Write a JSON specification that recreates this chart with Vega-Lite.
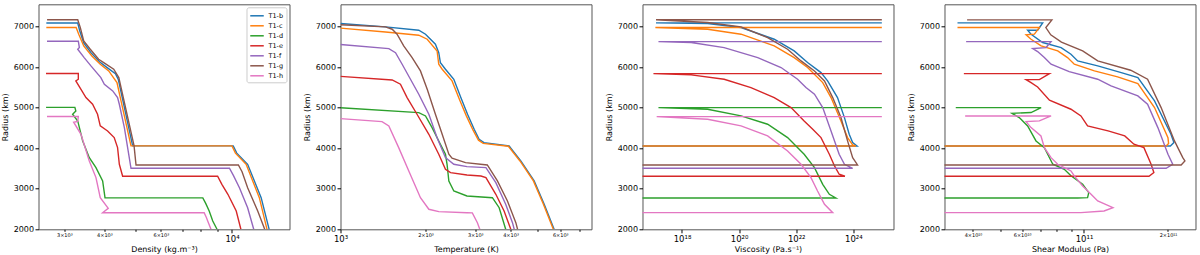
{
"$schema":"https://vega.github.io/schema/vega-lite/v6.json",
"padding":{"left":0.5,"top":3.3,"right":0,"bottom":0},
"background":"white",
"spacing":51,
"bounds":"flush",
"config":{
 "view":{"stroke":"#555","strokeWidth":1},
 "axis":{"domain":false,"grid":false,"tickColor":"#000","tickSize":3.5,"labelColor":"#000","titleColor":"#000","labelFont":"DejaVu Sans","titleFont":"DejaVu Sans","labelFontSize":8,"titleFontSize":8,"titleFontWeight":"normal","labelPadding":1.5,"labelOverlap":false,"labelFlush":false},
 "axisY":{"titlePadding":4},
 "axisX":{"titlePadding":3}
},
"datasets":{
"dens":[
{"s":"T1-b","i":0,"x":2636,"r":7090},{"s":"T1-b","i":1,"x":3303,"r":7090},{"s":"T1-b","i":2,"x":3350,"r":6900},{"s":"T1-b","i":3,"x":3448,"r":6600},{"s":"T1-b","i":4,"x":3630,"r":6360},{"s":"T1-b","i":5,"x":3860,"r":6135},{"s":"T1-b","i":6,"x":4050,"r":6010},{"s":"T1-b","i":7,"x":4330,"r":5840},{"s":"T1-b","i":8,"x":4420,"r":5700},{"s":"T1-b","i":9,"x":4900,"r":4060},{"s":"T1-b","i":10,"x":10090,"r":4060},{"s":"T1-b","i":11,"x":10350,"r":3880},{"s":"T1-b","i":12,"x":11190,"r":3605},{"s":"T1-b","i":13,"x":12330,"r":2780},{"s":"T1-b","i":14,"x":13060,"r":2000},
{"s":"T1-c","i":0,"x":2636,"r":6980},{"s":"T1-c","i":1,"x":3265,"r":6980},{"s":"T1-c","i":2,"x":3327,"r":6815},{"s":"T1-c","i":3,"x":3448,"r":6526},{"s":"T1-c","i":4,"x":3656,"r":6279},{"s":"T1-c","i":5,"x":3883,"r":6074},{"s":"T1-c","i":6,"x":4126,"r":5909},{"s":"T1-c","i":7,"x":4378,"r":5620},{"s":"T1-c","i":8,"x":4842,"r":4060},{"s":"T1-c","i":9,"x":10000,"r":4060},{"s":"T1-c","i":10,"x":10250,"r":3880},{"s":"T1-c","i":11,"x":11070,"r":3605},{"s":"T1-c","i":12,"x":12170,"r":2780},{"s":"T1-c","i":13,"x":12860,"r":2000},
{"s":"T1-d","i":0,"x":2631,"r":5010},{"s":"T1-d","i":1,"x":3236,"r":5010},{"s":"T1-d","i":2,"x":3258,"r":4919},{"s":"T1-d","i":3,"x":3184,"r":4839},{"s":"T1-d","i":4,"x":3303,"r":4674},{"s":"T1-d","i":5,"x":3423,"r":4180},{"s":"T1-d","i":6,"x":3589,"r":3768},{"s":"T1-d","i":7,"x":3765,"r":3521},{"s":"T1-d","i":8,"x":3950,"r":3193},{"s":"T1-d","i":9,"x":4018,"r":2775},{"s":"T1-d","i":10,"x":8110,"r":2775},{"s":"T1-d","i":11,"x":8280,"r":2640},{"s":"T1-d","i":12,"x":8490,"r":2452},{"s":"T1-d","i":13,"x":8710,"r":2205},{"s":"T1-d","i":14,"x":8980,"r":2000},
{"s":"T1-e","i":0,"x":2630,"r":5845},{"s":"T1-e","i":1,"x":3317,"r":5845},{"s":"T1-e","i":2,"x":3317,"r":5704},{"s":"T1-e","i":3,"x":3258,"r":5662},{"s":"T1-e","i":4,"x":3381,"r":5456},{"s":"T1-e","i":5,"x":3504,"r":5251},{"s":"T1-e","i":6,"x":3675,"r":5086},{"s":"T1-e","i":7,"x":3808,"r":4839},{"s":"T1-e","i":8,"x":3883,"r":4551},{"s":"T1-e","i":9,"x":4093,"r":4428},{"s":"T1-e","i":10,"x":4292,"r":4263},{"s":"T1-e","i":11,"x":4397,"r":4016},{"s":"T1-e","i":12,"x":4453,"r":3605},{"s":"T1-e","i":13,"x":4560,"r":3310},{"s":"T1-e","i":14,"x":9020,"r":3310},{"s":"T1-e","i":15,"x":9300,"r":3110},{"s":"T1-e","i":16,"x":9710,"r":2864},{"s":"T1-e","i":17,"x":10310,"r":2452},{"s":"T1-e","i":18,"x":10660,"r":2000},
{"s":"T1-f","i":0,"x":2649,"r":6640},{"s":"T1-f","i":1,"x":3317,"r":6640},{"s":"T1-f","i":2,"x":3342,"r":6485},{"s":"T1-f","i":3,"x":3303,"r":6444},{"s":"T1-f","i":4,"x":3459,"r":6238},{"s":"T1-f","i":5,"x":3631,"r":6033},{"s":"T1-f","i":6,"x":3900,"r":5745},{"s":"T1-f","i":7,"x":3999,"r":5580},{"s":"T1-f","i":8,"x":4246,"r":5415},{"s":"T1-f","i":9,"x":4397,"r":5251},{"s":"T1-f","i":10,"x":4453,"r":5086},{"s":"T1-f","i":11,"x":4617,"r":4510},{"s":"T1-f","i":12,"x":4842,"r":3506},{"s":"T1-f","i":13,"x":9820,"r":3506},{"s":"T1-f","i":14,"x":10100,"r":3330},{"s":"T1-f","i":15,"x":10550,"r":3027},{"s":"T1-f","i":16,"x":11190,"r":2533},{"s":"T1-f","i":17,"x":11690,"r":2000},
{"s":"T1-g","i":0,"x":2650,"r":7170},{"s":"T1-g","i":1,"x":3303,"r":7170},{"s":"T1-g","i":2,"x":3365,"r":6978},{"s":"T1-g","i":3,"x":3448,"r":6649},{"s":"T1-g","i":4,"x":3614,"r":6444},{"s":"T1-g","i":5,"x":3838,"r":6197},{"s":"T1-g","i":6,"x":3980,"r":6114},{"s":"T1-g","i":7,"x":4277,"r":5950},{"s":"T1-g","i":8,"x":4436,"r":5743},{"s":"T1-g","i":9,"x":4950,"r":4060},{"s":"T1-g","i":10,"x":5020,"r":3588},{"s":"T1-g","i":11,"x":10470,"r":3588},{"s":"T1-g","i":12,"x":10750,"r":3420},{"s":"T1-g","i":13,"x":11190,"r":3027},{"s":"T1-g","i":14,"x":12030,"r":2452},{"s":"T1-g","i":15,"x":12650,"r":2000},
{"s":"T1-h","i":0,"x":2649,"r":4785},{"s":"T1-h","i":1,"x":3317,"r":4785},{"s":"T1-h","i":2,"x":3303,"r":4660},{"s":"T1-h","i":3,"x":3208,"r":4643},{"s":"T1-h","i":4,"x":3381,"r":4345},{"s":"T1-h","i":5,"x":3589,"r":3687},{"s":"T1-h","i":6,"x":3765,"r":3276},{"s":"T1-h","i":7,"x":3883,"r":2782},{"s":"T1-h","i":8,"x":4112,"r":2518},{"s":"T1-h","i":9,"x":3950,"r":2410},{"s":"T1-h","i":10,"x":8190,"r":2410},{"s":"T1-h","i":11,"x":8320,"r":2290},{"s":"T1-h","i":12,"x":8400,"r":2205},{"s":"T1-h","i":13,"x":8600,"r":2000}
],
"temp":[
{"s":"T1-b","i":0,"x":1000,"r":7080},{"s":"T1-b","i":1,"x":1443,"r":6995},{"s":"T1-b","i":2,"x":1893,"r":6913},{"s":"T1-b","i":3,"x":2000,"r":6814},{"s":"T1-b","i":4,"x":2168,"r":6568},{"s":"T1-b","i":5,"x":2228,"r":6360},{"s":"T1-b","i":6,"x":2258,"r":6114},{"s":"T1-b","i":7,"x":2353,"r":5950},{"s":"T1-b","i":8,"x":2519,"r":5703},{"s":"T1-b","i":9,"x":2667,"r":5250},{"s":"T1-b","i":10,"x":2817,"r":4839},{"s":"T1-b","i":11,"x":2974,"r":4469},{"s":"T1-b","i":12,"x":3096,"r":4222},{"s":"T1-b","i":13,"x":3221,"r":4138},{"s":"T1-b","i":14,"x":3954,"r":4057},{"s":"T1-b","i":15,"x":4349,"r":3686},{"s":"T1-b","i":16,"x":4849,"r":3193},{"s":"T1-b","i":17,"x":5263,"r":2617},{"s":"T1-b","i":18,"x":5706,"r":2000},
{"s":"T1-c","i":0,"x":1000,"r":6965},{"s":"T1-c","i":1,"x":1443,"r":6871},{"s":"T1-c","i":2,"x":1893,"r":6790},{"s":"T1-c","i":3,"x":2028,"r":6691},{"s":"T1-c","i":4,"x":2198,"r":6402},{"s":"T1-c","i":5,"x":2228,"r":6074},{"s":"T1-c","i":6,"x":2291,"r":5950},{"s":"T1-c","i":7,"x":2483,"r":5662},{"s":"T1-c","i":8,"x":2640,"r":5200},{"s":"T1-c","i":9,"x":2790,"r":4800},{"s":"T1-c","i":10,"x":2950,"r":4440},{"s":"T1-c","i":11,"x":3080,"r":4200},{"s":"T1-c","i":12,"x":3200,"r":4120},{"s":"T1-c","i":13,"x":3930,"r":4050},{"s":"T1-c","i":14,"x":4320,"r":3686},{"s":"T1-c","i":15,"x":4820,"r":3193},{"s":"T1-c","i":16,"x":5230,"r":2617},{"s":"T1-c","i":17,"x":5670,"r":2000},
{"s":"T1-d","i":0,"x":1000,"r":5000},{"s":"T1-d","i":1,"x":1893,"r":4879},{"s":"T1-d","i":2,"x":2000,"r":4797},{"s":"T1-d","i":3,"x":2110,"r":4509},{"s":"T1-d","i":4,"x":2228,"r":4180},{"s":"T1-d","i":5,"x":2353,"r":3852},{"s":"T1-d","i":6,"x":2384,"r":3605},{"s":"T1-d","i":7,"x":2419,"r":3193},{"s":"T1-d","i":8,"x":2519,"r":2946},{"s":"T1-d","i":9,"x":2804,"r":2822},{"s":"T1-d","i":10,"x":3450,"r":2780},{"s":"T1-d","i":11,"x":3646,"r":2533},{"s":"T1-d","i":12,"x":3845,"r":2000},
{"s":"T1-e","i":0,"x":1000,"r":5775},{"s":"T1-e","i":1,"x":1524,"r":5686},{"s":"T1-e","i":2,"x":1630,"r":5580},{"s":"T1-e","i":3,"x":1721,"r":5250},{"s":"T1-e","i":4,"x":1866,"r":4839},{"s":"T1-e","i":5,"x":2055,"r":4345},{"s":"T1-e","i":6,"x":2228,"r":3852},{"s":"T1-e","i":7,"x":2353,"r":3481},{"s":"T1-e","i":8,"x":2453,"r":3398},{"s":"T1-e","i":9,"x":2804,"r":3341},{"s":"T1-e","i":10,"x":3142,"r":3316},{"s":"T1-e","i":11,"x":3273,"r":3274},{"s":"T1-e","i":12,"x":3548,"r":2864},{"s":"T1-e","i":13,"x":3795,"r":2452},{"s":"T1-e","i":14,"x":4008,"r":2000},
{"s":"T1-f","i":0,"x":1000,"r":6560},{"s":"T1-f","i":1,"x":1483,"r":6459},{"s":"T1-f","i":2,"x":1566,"r":6360},{"s":"T1-f","i":3,"x":1653,"r":6074},{"s":"T1-f","i":4,"x":1769,"r":5703},{"s":"T1-f","i":5,"x":1893,"r":5333},{"s":"T1-f","i":6,"x":2055,"r":4839},{"s":"T1-f","i":7,"x":2198,"r":4262},{"s":"T1-f","i":8,"x":2353,"r":3768},{"s":"T1-f","i":9,"x":2519,"r":3605},{"s":"T1-f","i":10,"x":2804,"r":3546},{"s":"T1-f","i":11,"x":3273,"r":3521},{"s":"T1-f","i":12,"x":3548,"r":3151},{"s":"T1-f","i":13,"x":3845,"r":2617},{"s":"T1-f","i":14,"x":4064,"r":2163},{"s":"T1-f","i":15,"x":4122,"r":2000},
{"s":"T1-g","i":0,"x":1000,"r":7050},{"s":"T1-g","i":1,"x":1443,"r":6995},{"s":"T1-g","i":2,"x":1524,"r":6938},{"s":"T1-g","i":3,"x":1586,"r":6814},{"s":"T1-g","i":4,"x":1674,"r":6526},{"s":"T1-g","i":5,"x":1793,"r":6237},{"s":"T1-g","i":6,"x":1919,"r":5909},{"s":"T1-g","i":7,"x":2028,"r":5457},{"s":"T1-g","i":8,"x":2168,"r":4839},{"s":"T1-g","i":9,"x":2291,"r":4345},{"s":"T1-g","i":10,"x":2419,"r":3852},{"s":"T1-g","i":11,"x":2483,"r":3753},{"s":"T1-g","i":12,"x":2771,"r":3644},{"s":"T1-g","i":13,"x":3310,"r":3588},{"s":"T1-g","i":14,"x":3594,"r":3193},{"s":"T1-g","i":15,"x":3900,"r":2699},{"s":"T1-g","i":16,"x":4177,"r":2163},{"s":"T1-g","i":17,"x":4236,"r":2000},
{"s":"T1-h","i":0,"x":1000,"r":4731},{"s":"T1-h","i":1,"x":1403,"r":4657},{"s":"T1-h","i":2,"x":1483,"r":4550},{"s":"T1-h","i":3,"x":1607,"r":4015},{"s":"T1-h","i":4,"x":1745,"r":3440},{"s":"T1-h","i":5,"x":1919,"r":2780},{"s":"T1-h","i":6,"x":2055,"r":2494},{"s":"T1-h","i":7,"x":2228,"r":2435},{"s":"T1-h","i":8,"x":2804,"r":2410},{"s":"T1-h","i":9,"x":2929,"r":2405},{"s":"T1-h","i":10,"x":3053,"r":2163},{"s":"T1-h","i":11,"x":3113,"r":2000}
],
"visc":[
{"s":"T1-b","i":0,"x":1e25,"r":7094},{"s":"T1-b","i":1,"x":1.23e17,"r":7094},{"s":"T1-b","i":2,"x":7.9e18,"r":7078},{"s":"T1-b","i":3,"x":1.17e20,"r":6979},{"s":"T1-b","i":4,"x":1.7e21,"r":6691},{"s":"T1-b","i":5,"x":8.5e21,"r":6403},{"s":"T1-b","i":6,"x":2.5e22,"r":6115},{"s":"T1-b","i":7,"x":7.4e22,"r":5868},{"s":"T1-b","i":8,"x":1.26e23,"r":5662},{"s":"T1-b","i":9,"x":2.8e23,"r":5251},{"s":"T1-b","i":10,"x":4.9e23,"r":4757},{"s":"T1-b","i":11,"x":7.2e23,"r":4346},{"s":"T1-b","i":12,"x":9.5e23,"r":4140},{"s":"T1-b","i":13,"x":1.35e24,"r":4057},{"s":"T1-b","i":14,"x":1e16,"r":4057},
{"s":"T1-c","i":0,"x":1e25,"r":6979},{"s":"T1-c","i":1,"x":1.17e17,"r":6979},{"s":"T1-c","i":2,"x":7.9e18,"r":6938},{"s":"T1-c","i":3,"x":1.17e20,"r":6815},{"s":"T1-c","i":4,"x":1.7e21,"r":6527},{"s":"T1-c","i":5,"x":8.5e21,"r":6238},{"s":"T1-c","i":6,"x":2.5e22,"r":5992},{"s":"T1-c","i":7,"x":8.5e22,"r":5621},{"s":"T1-c","i":8,"x":1.66e23,"r":5251},{"s":"T1-c","i":9,"x":3.7e23,"r":4675},{"s":"T1-c","i":10,"x":6.3e23,"r":4263},{"s":"T1-c","i":11,"x":9.5e23,"r":4082},{"s":"T1-c","i":12,"x":1.23e24,"r":4055},{"s":"T1-c","i":13,"x":1e16,"r":4057},
{"s":"T1-d","i":0,"x":1e25,"r":5004},{"s":"T1-d","i":1,"x":1.5e17,"r":5004},{"s":"T1-d","i":2,"x":7.9e18,"r":4963},{"s":"T1-d","i":3,"x":1.17e20,"r":4798},{"s":"T1-d","i":4,"x":1e21,"r":4593},{"s":"T1-d","i":5,"x":5e21,"r":4263},{"s":"T1-d","i":6,"x":1.9e22,"r":3852},{"s":"T1-d","i":7,"x":4.37e22,"r":3523},{"s":"T1-d","i":8,"x":8.5e22,"r":3111},{"s":"T1-d","i":9,"x":1.45e23,"r":2864},{"s":"T1-d","i":10,"x":2.45e23,"r":2774},{"s":"T1-d","i":11,"x":1e16,"r":2774},
{"s":"T1-e","i":0,"x":1e25,"r":5843},{"s":"T1-e","i":1,"x":1e17,"r":5843},{"s":"T1-e","i":2,"x":2.1e18,"r":5810},{"s":"T1-e","i":3,"x":3e19,"r":5704},{"s":"T1-e","i":4,"x":2.6e20,"r":5498},{"s":"T1-e","i":5,"x":1.7e21,"r":5251},{"s":"T1-e","i":6,"x":6.6e21,"r":5004},{"s":"T1-e","i":7,"x":1.9e22,"r":4675},{"s":"T1-e","i":8,"x":3.8e22,"r":4469},{"s":"T1-e","i":9,"x":7.4e22,"r":4263},{"s":"T1-e","i":10,"x":1.45e23,"r":3852},{"s":"T1-e","i":11,"x":2.2e23,"r":3564},{"s":"T1-e","i":12,"x":3.2e23,"r":3358},{"s":"T1-e","i":13,"x":5.1e23,"r":3309},{"s":"T1-e","i":14,"x":1e16,"r":3309},
{"s":"T1-f","i":0,"x":1e25,"r":6633},{"s":"T1-f","i":1,"x":1.5e17,"r":6633},{"s":"T1-f","i":2,"x":2.1e18,"r":6609},{"s":"T1-f","i":3,"x":3e19,"r":6485},{"s":"T1-f","i":4,"x":4.5e20,"r":6238},{"s":"T1-f","i":5,"x":2.95e21,"r":5992},{"s":"T1-f","i":6,"x":1.12e22,"r":5704},{"s":"T1-f","i":7,"x":2.2e22,"r":5498},{"s":"T1-f","i":8,"x":4.37e22,"r":5333},{"s":"T1-f","i":9,"x":8.5e22,"r":5004},{"s":"T1-f","i":10,"x":1.66e23,"r":4428},{"s":"T1-f","i":11,"x":3.2e23,"r":3852},{"s":"T1-f","i":12,"x":4.9e23,"r":3605},{"s":"T1-f","i":13,"x":9.5e23,"r":3506},{"s":"T1-f","i":14,"x":1e16,"r":3506},
{"s":"T1-g","i":0,"x":1e25,"r":7170},{"s":"T1-g","i":1,"x":1.23e17,"r":7170},{"s":"T1-g","i":2,"x":7.9e18,"r":7103},{"s":"T1-g","i":3,"x":1.17e20,"r":6996},{"s":"T1-g","i":4,"x":1e21,"r":6732},{"s":"T1-g","i":5,"x":5e21,"r":6444},{"s":"T1-g","i":6,"x":1.48e22,"r":6156},{"s":"T1-g","i":7,"x":4.37e22,"r":5909},{"s":"T1-g","i":8,"x":9.8e22,"r":5662},{"s":"T1-g","i":9,"x":1.9e23,"r":5251},{"s":"T1-g","i":10,"x":3.7e23,"r":4757},{"s":"T1-g","i":11,"x":6.3e23,"r":4181},{"s":"T1-g","i":12,"x":9.5e23,"r":3769},{"s":"T1-g","i":13,"x":1.41e24,"r":3588},{"s":"T1-g","i":14,"x":1e16,"r":3588},
{"s":"T1-h","i":0,"x":1e25,"r":4782},{"s":"T1-h","i":1,"x":1.3e17,"r":4782},{"s":"T1-h","i":2,"x":7.9e18,"r":4716},{"s":"T1-h","i":3,"x":1.17e20,"r":4551},{"s":"T1-h","i":4,"x":1e21,"r":4304},{"s":"T1-h","i":5,"x":5e21,"r":3934},{"s":"T1-h","i":6,"x":1.48e22,"r":3605},{"s":"T1-h","i":7,"x":3.3e22,"r":3276},{"s":"T1-h","i":8,"x":5.6e22,"r":2946},{"s":"T1-h","i":9,"x":9.8e22,"r":2617},{"s":"T1-h","i":10,"x":1.9e23,"r":2411},{"s":"T1-h","i":11,"x":1e16,"r":2411}
],
"shear":[
{"s":"T1-b","i":0,"x":3.52e10,"r":7094},{"s":"T1-b","i":1,"x":7.11e10,"r":7094},{"s":"T1-b","i":2,"x":6.82e10,"r":6913},{"s":"T1-b","i":3,"x":6.28e10,"r":6913},{"s":"T1-b","i":4,"x":6.46e10,"r":6815},{"s":"T1-b","i":5,"x":7.11e10,"r":6609},{"s":"T1-b","i":6,"x":8.28e10,"r":6485},{"s":"T1-b","i":7,"x":8.98e10,"r":6321},{"s":"T1-b","i":8,"x":9.49e10,"r":6156},{"s":"T1-b","i":9,"x":1.12e11,"r":6033},{"s":"T1-b","i":10,"x":1.36e11,"r":5868},{"s":"T1-b","i":11,"x":1.56e11,"r":5745},{"s":"T1-b","i":12,"x":1.79e11,"r":5169},{"s":"T1-b","i":13,"x":2.05e11,"r":4346},{"s":"T1-b","i":14,"x":2.1e11,"r":4140},{"s":"T1-b","i":15,"x":2.04e11,"r":4057},{"s":"T1-b","i":16,"x":2.5e10,"r":4057},
{"s":"T1-c","i":0,"x":3.52e10,"r":6979},{"s":"T1-c","i":1,"x":6.92e10,"r":6979},{"s":"T1-c","i":2,"x":6.64e10,"r":6815},{"s":"T1-c","i":3,"x":6.2e10,"r":6798},{"s":"T1-c","i":4,"x":6.46e10,"r":6691},{"s":"T1-c","i":5,"x":7.02e10,"r":6527},{"s":"T1-c","i":6,"x":8.05e10,"r":6403},{"s":"T1-c","i":7,"x":8.73e10,"r":6238},{"s":"T1-c","i":8,"x":9.23e10,"r":6074},{"s":"T1-c","i":9,"x":1.09e11,"r":5909},{"s":"T1-c","i":10,"x":1.32e11,"r":5761},{"s":"T1-c","i":11,"x":1.56e11,"r":5597},{"s":"T1-c","i":12,"x":1.79e11,"r":5004},{"s":"T1-c","i":13,"x":2.0e11,"r":4263},{"s":"T1-c","i":14,"x":2.01e11,"r":4120},{"s":"T1-c","i":15,"x":1.97e11,"r":4057},{"s":"T1-c","i":16,"x":2.5e10,"r":4057},
{"s":"T1-d","i":0,"x":3.47e10,"r":5004},{"s":"T1-d","i":1,"x":7.02e10,"r":5004},{"s":"T1-d","i":2,"x":6.46e10,"r":4881},{"s":"T1-d","i":3,"x":5.52e10,"r":4864},{"s":"T1-d","i":4,"x":5.86e10,"r":4757},{"s":"T1-d","i":5,"x":6.28e10,"r":4551},{"s":"T1-d","i":6,"x":6.73e10,"r":4181},{"s":"T1-d","i":7,"x":7.21e10,"r":4016},{"s":"T1-d","i":8,"x":7.73e10,"r":3605},{"s":"T1-d","i":9,"x":8.5e10,"r":3481},{"s":"T1-d","i":10,"x":8.98e10,"r":3320},{"s":"T1-d","i":11,"x":9.89e10,"r":3111},{"s":"T1-d","i":12,"x":1.04e11,"r":2905},{"s":"T1-d","i":13,"x":1.03e11,"r":2782},{"s":"T1-d","i":14,"x":9.49e10,"r":2774},{"s":"T1-d","i":15,"x":2.5e10,"r":2774},
{"s":"T1-e","i":0,"x":3.71e10,"r":5843},{"s":"T1-e","i":1,"x":7.52e10,"r":5843},{"s":"T1-e","i":2,"x":6.92e10,"r":5695},{"s":"T1-e","i":3,"x":6.2e10,"r":5695},{"s":"T1-e","i":4,"x":6.46e10,"r":5621},{"s":"T1-e","i":5,"x":6.82e10,"r":5514},{"s":"T1-e","i":6,"x":7.52e10,"r":5185},{"s":"T1-e","i":7,"x":8.98e10,"r":4963},{"s":"T1-e","i":8,"x":9.75e10,"r":4798},{"s":"T1-e","i":9,"x":1.03e11,"r":4551},{"s":"T1-e","i":10,"x":1.22e11,"r":4428},{"s":"T1-e","i":11,"x":1.4e11,"r":4304},{"s":"T1-e","i":12,"x":1.51e11,"r":4099},{"s":"T1-e","i":13,"x":1.64e11,"r":4016},{"s":"T1-e","i":14,"x":1.74e11,"r":3605},{"s":"T1-e","i":15,"x":1.78e11,"r":3399},{"s":"T1-e","i":16,"x":1.71e11,"r":3309},{"s":"T1-e","i":17,"x":2.5e10,"r":3309},
{"s":"T1-f","i":0,"x":3.78e10,"r":6633},{"s":"T1-f","i":1,"x":7.62e10,"r":6633},{"s":"T1-f","i":2,"x":7.31e10,"r":6485},{"s":"T1-f","i":3,"x":6.55e10,"r":6461},{"s":"T1-f","i":4,"x":6.82e10,"r":6387},{"s":"T1-f","i":5,"x":7.21e10,"r":6238},{"s":"T1-f","i":6,"x":7.62e10,"r":6074},{"s":"T1-f","i":7,"x":8.85e10,"r":5893},{"s":"T1-f","i":8,"x":1.12e11,"r":5704},{"s":"T1-f","i":9,"x":1.25e11,"r":5539},{"s":"T1-f","i":10,"x":1.56e11,"r":5292},{"s":"T1-f","i":11,"x":1.69e11,"r":5086},{"s":"T1-f","i":12,"x":1.84e11,"r":4510},{"s":"T1-f","i":13,"x":2.0e11,"r":3852},{"s":"T1-f","i":14,"x":2.08e11,"r":3605},{"s":"T1-f","i":15,"x":1.97e11,"r":3506},{"s":"T1-f","i":16,"x":2.5e10,"r":3506},
{"s":"T1-g","i":0,"x":3.81e10,"r":7168},{"s":"T1-g","i":1,"x":7.67e10,"r":7168},{"s":"T1-g","i":2,"x":7.3e10,"r":6979},{"s":"T1-g","i":3,"x":7.6e10,"r":6800},{"s":"T1-g","i":4,"x":8.3e10,"r":6620},{"s":"T1-g","i":5,"x":9.89e10,"r":6403},{"s":"T1-g","i":6,"x":1.12e11,"r":6156},{"s":"T1-g","i":7,"x":1.47e11,"r":5926},{"s":"T1-g","i":8,"x":1.69e11,"r":5704},{"s":"T1-g","i":9,"x":1.89e11,"r":5004},{"s":"T1-g","i":10,"x":2.11e11,"r":4181},{"s":"T1-g","i":11,"x":2.26e11,"r":3769},{"s":"T1-g","i":12,"x":2.3e11,"r":3687},{"s":"T1-g","i":13,"x":2.23e11,"r":3588},{"s":"T1-g","i":14,"x":2.5e10,"r":3588},
{"s":"T1-h","i":0,"x":3.75e10,"r":4798},{"s":"T1-h","i":1,"x":7.62e10,"r":4798},{"s":"T1-h","i":2,"x":6.92e10,"r":4675},{"s":"T1-h","i":3,"x":6.2e10,"r":4658},{"s":"T1-h","i":4,"x":6.46e10,"r":4510},{"s":"T1-h","i":5,"x":7.01e10,"r":4304},{"s":"T1-h","i":6,"x":7.21e10,"r":4016},{"s":"T1-h","i":7,"x":7.62e10,"r":3769},{"s":"T1-h","i":8,"x":8.05e10,"r":3605},{"s":"T1-h","i":9,"x":8.98e10,"r":3440},{"s":"T1-h","i":10,"x":9.23e10,"r":3317},{"s":"T1-h","i":11,"x":9.89e10,"r":3070},{"s":"T1-h","i":12,"x":1.06e11,"r":2864},{"s":"T1-h","i":13,"x":1.12e11,"r":2700},{"s":"T1-h","i":14,"x":1.27e11,"r":2535},{"s":"T1-h","i":15,"x":1.18e11,"r":2453},{"s":"T1-h","i":16,"x":9.75e10,"r":2411},{"s":"T1-h","i":17,"x":2.5e10,"r":2411}
]
},
"hconcat":[
{"width":251,"height":225,"data":{"name":"dens"},"mark":{"type":"line","clip":true,"strokeWidth":1.4},
 "encoding":{
  "x":{"field":"x","type":"quantitative","scale":{"type":"log","domain":[2492,15115],"nice":false},"axis":{"title":"Density (kg.m⁻³)","values":[3000,4000,5000,6000,7000,8000,9000,10000],"labelExpr":"datum.value == 3000 ? '3×10³' : datum.value == 4000 ? '4×10³' : datum.value == 6000 ? '6×10³' : datum.value == 10000 ? '10⁴' : ''","labelFontSize":{"condition":{"test":"datum.value == 10000","value":8.5},"value":5},"tickSize":{"condition":{"test":"datum.value == 10000","value":3.5},"value":2}}},
  "y":{"field":"r","type":"quantitative","scale":{"domain":[2000,7553],"nice":false,"zero":false},"axis":{"title":"Radius (km)","values":[2000,3000,4000,5000,6000,7000],"format":"d"}},
  "color":{"field":"s","type":"nominal","scale":{"domain":["T1-b","T1-c","T1-d","T1-e","T1-f","T1-g","T1-h"],"range":["#1f77b4","#ff7f0e","#2ca02c","#d62728","#9467bd","#8c564b","#e377c2"]},
   "legend":{"orient":"top-right","offset":3,"title":null,"symbolType":"M-1.5,0H1.5","symbolSize":81,"symbolStrokeWidth":1.5,"symbolOffset":2,"labelOffset":6,"labelFontSize":6.5,"labelFont":"DejaVu Sans","labelColor":"#000","rowPadding":1,"padding":3,"strokeColor":"#ccc","fillColor":"#fff","cornerRadius":2}},
  "order":{"field":"i","type":"quantitative"}
 }},
{"width":251,"height":225,"data":{"name":"temp"},"mark":{"type":"line","clip":true,"strokeWidth":1.4},
 "encoding":{
  "x":{"field":"x","type":"quantitative","scale":{"type":"log","domain":[1000,7740],"nice":false},"axis":{"title":"Temperature (K)","values":[1000,2000,3000,4000,5000,6000,7000],"labelExpr":"datum.value == 1000 ? '10³' : datum.value == 2000 ? '2×10³' : datum.value == 3000 ? '3×10³' : datum.value == 4000 ? '4×10³' : datum.value == 6000 ? '6×10³' : ''","labelFontSize":{"condition":{"test":"datum.value == 1000","value":8.5},"value":5},"tickSize":{"condition":{"test":"datum.value == 1000","value":3.5},"value":2}}},
  "y":{"field":"r","type":"quantitative","scale":{"domain":[2000,7553],"nice":false,"zero":false},"axis":{"title":"Radius (km)","values":[2000,3000,4000,5000,6000,7000],"format":"d"}},
  "color":{"field":"s","type":"nominal","legend":null},
  "order":{"field":"i","type":"quantitative"}
 }},
{"width":251,"height":225,"data":{"name":"visc"},"mark":{"type":"line","clip":true,"strokeWidth":1.4},
 "encoding":{
  "x":{"field":"x","type":"quantitative","scale":{"type":"log","domain":[4.14e16,2.56e25],"nice":false},"axis":{"title":"Viscosity (Pa.s⁻¹)","values":[1e18,1e20,1e22,1e24],"labelExpr":"datum.value == 1e18 ? '10¹⁸' : datum.value == 1e20 ? '10²⁰' : datum.value == 1e22 ? '10²²' : '10²⁴'","labelFontSize":8.5}},
  "y":{"field":"r","type":"quantitative","scale":{"domain":[2000,7553],"nice":false,"zero":false},"axis":{"title":"Radius (km)","values":[2000,3000,4000,5000,6000,7000],"format":"d"}},
  "color":{"field":"s","type":"nominal","legend":null},
  "order":{"field":"i","type":"quantitative"}
 }},
{"width":251,"height":225,"data":{"name":"shear"},"mark":{"type":"line","clip":true,"strokeWidth":1.4},
 "encoding":{
  "x":{"field":"x","type":"quantitative","scale":{"type":"log","domain":[3.162e10,2.51e11],"nice":false},"axis":{"title":"Shear Modulus (Pa)","values":[4e10,5e10,6e10,7e10,8e10,9e10,1e11,2e11],"labelExpr":"datum.value == 4e10 ? '4×10¹⁰' : datum.value == 6e10 ? '6×10¹⁰' : datum.value == 1e11 ? '10¹¹' : datum.value == 2e11 ? '2×10¹¹' : ''","labelFontSize":{"condition":{"test":"datum.value == 1e11","value":8.5},"value":5},"tickSize":{"condition":{"test":"datum.value == 1e11","value":3.5},"value":2}}},
  "y":{"field":"r","type":"quantitative","scale":{"domain":[2000,7553],"nice":false,"zero":false},"axis":{"title":"Radius (km)","values":[2000,3000,4000,5000,6000,7000],"format":"d"}},
  "color":{"field":"s","type":"nominal","legend":null},
  "order":{"field":"i","type":"quantitative"}
 }}
],
"resolve":{"legend":{"color":"independent"}}
}
